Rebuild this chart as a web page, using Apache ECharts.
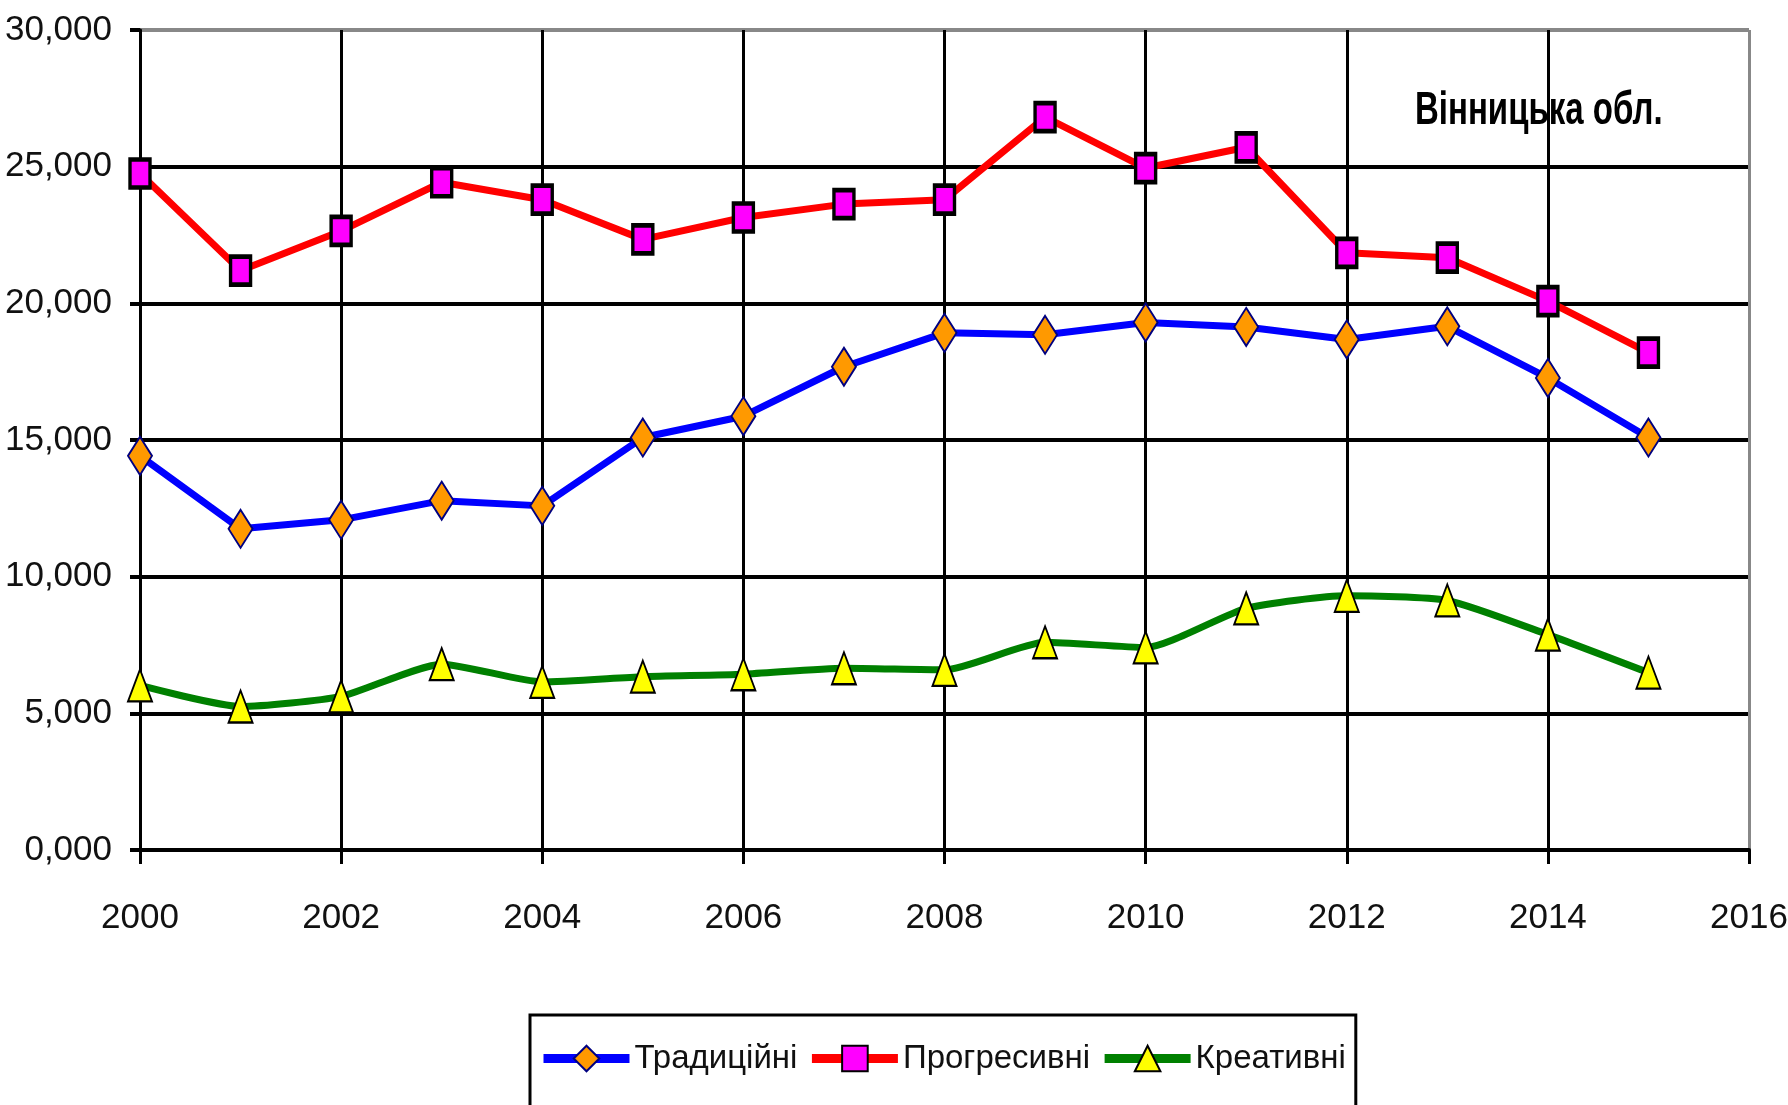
<!DOCTYPE html>
<html><head><meta charset="utf-8">
<script src="https://cdn.jsdelivr.net/npm/echarts@6/dist/echarts.min.js"></script>
<style>html,body{margin:0;padding:0;background:#fff}#c{width:1788px;height:1105px}</style>
</head><body><div id="c"></div>
<script>
const years = [2000,2001,2002,2003,2004,2005,2006,2007,2008,2009,2010,2011,2012,2013,2014,2015];
const tradytsiini = [14420,11750,12080,12780,12590,15090,15870,17680,18920,18850,19300,19135,18680,19160,17270,15090];
const prohresyvni = [24750,21200,22650,24430,23790,22340,23140,23630,23790,26810,24950,25710,21850,21670,20080,18200];
const kreatyvni = [6020,5250,5620,6800,6150,6340,6430,6650,6590,7600,7410,8840,9300,9130,7880,6490];
const seriesNames = ['Традиційні','Прогресивні','Креативні'];
const regionLabel = 'Вінницька обл.';
const xMin = 2000, xMax = 2016, xStep = 2;
const yMin = 0, yMax = 30000, yStep = 5000;

const FONT = "'Liberation Sans Narrow','Arial Narrow','Liberation Sans',Arial,sans-serif";
const pairs = arr => years.map((y, i) => [y, arr[i]]);

const chart = echarts.init(document.getElementById('c'), null, {renderer: 'canvas'});
chart.setOption({
  backgroundColor: '#ffffff',
  animation: false,
  graphic: [{
    type: 'text', x: 1415, y: 111, scaleY: 1.4, silent: true,
    style: {text: regionLabel, font: "bold 33px 'Liberation Sans', Arial, sans-serif",
      fill: '#000', textAlign: 'left', textVerticalAlign: 'middle'}
  }],
  grid: {left: 140, right: 39, top: 30, bottom: 255, containLabel: false, outerBoundsMode: 'none'},
  xAxis: {
    type: 'value', min: xMin, max: xMax, interval: xStep,
    axisLine: {show: true, onZero: false, lineStyle: {color: '#000', width: 4}},
    axisTick: {show: true, length: 14, lineStyle: {color: '#000', width: 3}},
    axisLabel: {margin: 51, fontFamily: FONT, fontSize: 35, color: '#111', formatter: v => String(v)},
    splitLine: {show: true, lineStyle: {color: ['#000','#000','#000','#000','#000','#000','#000','#000','#888'], width: 3}}
  },
  yAxis: {
    type: 'value', min: yMin, max: yMax, interval: yStep,
    axisLine: {show: true, lineStyle: {color: '#000', width: 3}},
    axisTick: {show: true, length: 10, lineStyle: {color: '#000', width: 4}},
    axisLabel: {margin: 28, fontFamily: FONT, fontSize: 35, color: '#111',
      formatter: v => (v / 1000).toFixed(3).replace('.', ',')},
    splitLine: {show: true, lineStyle: {color: ['#000','#000','#000','#000','#000','#000','#888'], width: 4}}
  },
  legend: {
    left: 530, top: 1015,
    padding: [27, 10, 60, 9],
    borderColor: '#000', borderWidth: 3,
    itemWidth: 86, itemHeight: 32, itemGap: 10,
    lineStyle: {width: 9},
    textStyle: {fontFamily: FONT, fontSize: 33, color: '#111'},
    data: seriesNames
  },
  series: [
    {
      name: seriesNames[0], type: 'line', data: pairs(tradytsiini),
      lineStyle: {color: '#0000ff', width: 7},
      symbol: 'diamond', symbolSize: [24, 38], showAllSymbol: true,
      itemStyle: {color: '#ff9900', borderColor: '#000080', borderWidth: 2}
    },
    {
      name: seriesNames[1], type: 'line', data: pairs(prohresyvni),
      lineStyle: {color: '#ff0000', width: 7},
      symbol: 'rect', symbolSize: [20, 28], showAllSymbol: true,
      itemStyle: {color: '#ff00ff', borderColor: '#000', borderWidth: 4}
    },
    {
      name: seriesNames[2], type: 'line', data: pairs(kreatyvni), smooth: 0.2,
      lineStyle: {color: '#008000', width: 7},
      symbol: 'triangle', symbolSize: [24, 32], showAllSymbol: true,
      itemStyle: {color: '#ffff00', borderColor: '#000', borderWidth: 2}
    }
  ]
});
</script>
</body></html>
